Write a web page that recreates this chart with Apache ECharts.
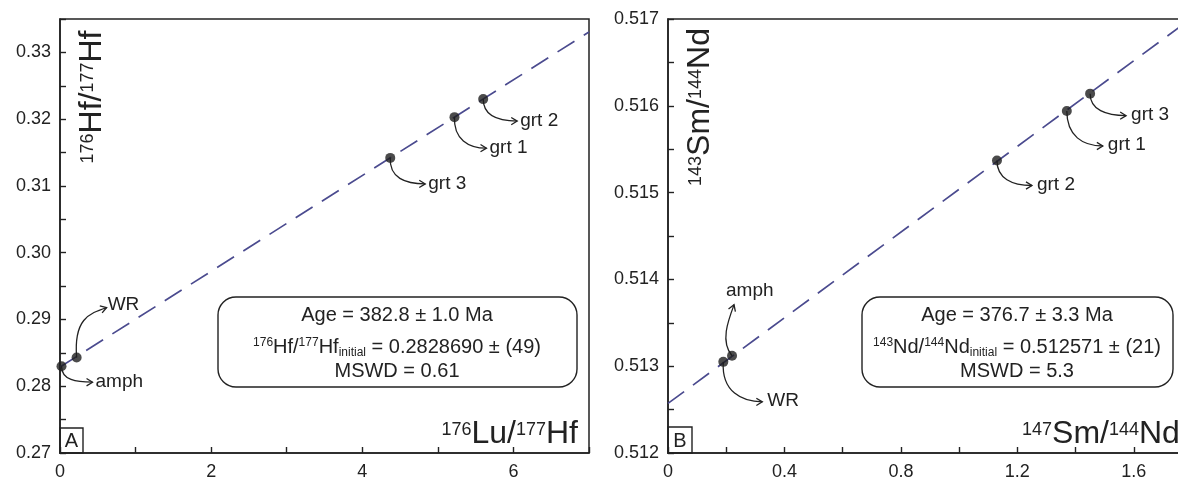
<!DOCTYPE html>
<html><head><meta charset="utf-8">
<script src="https://cdn.jsdelivr.net/npm/echarts@6/dist/echarts.min.js"></script>
<style>html,body{margin:0;padding:0;background:#fff;overflow:hidden}#c{width:1200px;height:478px}</style>
</head><body><div id="c"></div>
<script>
// ---- Panel A: Lu-Hf ----
const hfLabels = ['amph', 'WR', 'grt 3', 'grt 1', 'grt 2'];
const hfX = [0.02, 0.22, 4.37, 5.22, 5.60];
const hfY = [0.2830, 0.2843, 0.3142, 0.3203, 0.3230];
const hfLineX = [0, 7];
const hfLineY = [0.28287, 0.33306];
const hfXTickLabels = ['0', '2', '4', '6'];
const hfYTickLabels = ['0.27', '0.28', '0.29', '0.30', '0.31', '0.32', '0.33'];
// ---- Panel B: Sm-Nd ----
const smLabels = ['WR', 'amph', 'grt 2', 'grt 1', 'grt 3'];
const smX = [0.19, 0.22, 1.13, 1.37, 1.45];
const smY = [0.51305, 0.51312, 0.51537, 0.51594, 0.51614];
const smLineX = [0, 1.8];
const smLineY = [0.512571, 0.517012];
const smXTickLabels = ['0', '0.4', '0.8', '1.2', '1.6'];
const smYTickLabels = ['0.512', '0.513', '0.514', '0.515', '0.516', '0.517'];

const FONT = "'Liberation Sans', Arial, sans-serif";
const INK = '#222';
const LINE_COLOR = '#4b4b8f';

// annotation arrow shapes (pixel offsets): tip from point, c1 from point, c2 from tip, label from tip
const hfArrows = {
  'amph':  {tip: [31, 16],  c1: [0, 14],   c2: [-16, 0], lab: [3, 0]},
  'WR':    {tip: [30, -50], c1: [-3, -38], c2: [-18, 6], lab: [1, -3]},
  'grt 3': {tip: [35, 26],  c1: [-1, 20],  c2: [-20, 0], lab: [3, 0]},
  'grt 1': {tip: [32, 31],  c1: [-1, 22],  c2: [-18, 0], lab: [3, 0]},
  'grt 2': {tip: [34, 22],  c1: [0, 16],   c2: [-20, 0], lab: [3, 0]}
};
const smArrows = {
  'WR':    {tip: [39, 40],  c1: [-2, 30],   c2: [-20, 0], lab: [5, -1]},
  'amph':  {tip: [2, -51],  c1: [-12, -14], c2: [-6, 16], lab: [-8, -14]},
  'grt 2': {tip: [35, 25],  c1: [0, 18],    c2: [-20, 0], lab: [5, -1]},
  'grt 1': {tip: [36, 35],  c1: [0, 25],    c2: [-20, 0], lab: [5, -1]},
  'grt 3': {tip: [36, 22],  c1: [0, 16],    c2: [-20, 0], lab: [5, -1]}
};

function tickFormatter(labels) {
  return function (v) {
    const hit = labels.find(l => Math.abs(parseFloat(l) - v) < 1e-9);
    return hit === undefined ? '' : hit;
  };
}

function annotRender(labels, shapes) {
  return function (params, api) {
    const p = api.coord([api.value(0), api.value(1)]);
    const s = shapes[labels[params.dataIndex]];
    const tx = p[0] + s.tip[0], ty = p[1] + s.tip[1];
    const c2x = tx + s.c2[0], c2y = ty + s.c2[1];
    const a = Math.atan2(ty - c2y, tx - c2x);
    const L = 7, th = 0.55;
    return {
      type: 'group',
      children: [
        {type: 'bezierCurve',
         shape: {x1: p[0], y1: p[1], x2: tx, y2: ty,
                 cpx1: p[0] + s.c1[0], cpy1: p[1] + s.c1[1], cpx2: c2x, cpy2: c2y},
         style: {stroke: INK, lineWidth: 1.3, fill: null}},
        {type: 'polyline',
         shape: {points: [[tx - L * Math.cos(a + th), ty - L * Math.sin(a + th)], [tx, ty],
                          [tx - L * Math.cos(a - th), ty - L * Math.sin(a - th)]]},
         style: {stroke: INK, lineWidth: 1.3, fill: null}},
        {type: 'text', x: tx + s.lab[0], y: ty + s.lab[1],
         style: {text: labels[params.dataIndex], fill: INK, fontSize: 19, fontFamily: FONT,
                 align: 'left', verticalAlign: 'middle', textAlign: 'left', textVerticalAlign: 'middle'}}
      ]
    };
  };
}

function mkX(idx, min, max, interval, labels) {
  return {
    type: 'value', gridIndex: idx, min: min, max: max, interval: interval,
    axisLine: {show: true, onZero: false, lineStyle: {color: INK, width: 1.6}},
    axisTick: {show: true, inside: true, length: 6, lineStyle: {color: INK, width: 1.4}},
    axisLabel: {show: true, margin: 10, fontSize: 18, color: INK, fontFamily: FONT,
                formatter: tickFormatter(labels), showMinLabel: true, showMaxLabel: true},
    splitLine: {show: false}
  };
}
function mkY(idx, min, max, interval, labels) {
  return {
    type: 'value', gridIndex: idx, min: min, max: max, interval: interval,
    axisLine: {show: true, onZero: false, lineStyle: {color: INK, width: 1.6}},
    axisTick: {show: true, inside: true, length: 6, lineStyle: {color: INK, width: 1.4}},
    axisLabel: {show: true, margin: 9, fontSize: 18, color: INK, fontFamily: FONT,
                formatter: tickFormatter(labels), showMinLabel: true, showMaxLabel: true},
    splitLine: {show: false}
  };
}

const richTitle = {
  m: {fontSize: 32, fontFamily: FONT, color: INK, fill: INK, lineHeight: 33},
  s: {fontSize: 18, fontFamily: FONT, color: INK, fill: INK, padding: [0, 0, 8, 0]}
};
const richBox = {
  m: {fontSize: 20, fontFamily: FONT, color: INK, fill: INK, lineHeight: 22},
  s: {fontSize: 12, fontFamily: FONT, color: INK, fill: INK, padding: [0, 0, 8, 0]},
  b: {fontSize: 12, fontFamily: FONT, color: INK, fill: INK, padding: [12, 0, 0, 0]}
};
function txt(x, y, text, rich, align, rot) {
  return {type: 'text', x: x, y: y, rotation: rot || 0, z: 10,
          style: {text: text, rich: rich, fill: INK, fontSize: 20, fontFamily: FONT,
                  align: align, textAlign: align, verticalAlign: 'middle', textVerticalAlign: 'middle'}};
}

const chart = echarts.init(document.getElementById('c'), null, {renderer: 'canvas'});
chart.setOption({
  backgroundColor: '#fff',
  animation: false,
  grid: [
    {left: 60, top: 19, width: 529, height: 434, show: true, borderColor: INK, borderWidth: 1.5,
     containLabel: false, outerBoundsMode: 'none'},
    {left: 668, top: 19, width: 524, height: 434, show: true, borderColor: INK, borderWidth: 1.5,
     containLabel: false, outerBoundsMode: 'none'}
  ],
  xAxis: [mkX(0, 0, 7, 1, hfXTickLabels), mkX(1, 0, 1.8, 0.2, smXTickLabels)],
  yAxis: [mkY(0, 0.27, 0.335, 0.005, hfYTickLabels), mkY(1, 0.512, 0.517, 0.0005, smYTickLabels)],
  series: [
    {type: 'line', xAxisIndex: 0, yAxisIndex: 0, data: hfLineX.map((x, i) => [x, hfLineY[i]]),
     showSymbol: false, symbol: 'none', clip: true, z: 2,
     lineStyle: {color: LINE_COLOR, width: 1.7, type: [20, 11]}},
    {type: 'line', xAxisIndex: 1, yAxisIndex: 1, data: smLineX.map((x, i) => [x, smLineY[i]]),
     showSymbol: false, symbol: 'none', clip: true, z: 2,
     lineStyle: {color: LINE_COLOR, width: 1.7, type: [20, 11]}},
    {type: 'custom', xAxisIndex: 0, yAxisIndex: 0, z: 3,
     data: hfX.map((x, i) => [x, hfY[i]]), renderItem: annotRender(hfLabels, hfArrows)},
    {type: 'custom', xAxisIndex: 1, yAxisIndex: 1, z: 3,
     data: smX.map((x, i) => [x, smY[i]]), renderItem: annotRender(smLabels, smArrows)},
    {type: 'scatter', xAxisIndex: 0, yAxisIndex: 0, data: hfX.map((x, i) => [x, hfY[i]]),
     symbolSize: 10, itemStyle: {color: '#1e1e1e'}, z: 4, clip: false},
    {type: 'scatter', xAxisIndex: 1, yAxisIndex: 1, data: smX.map((x, i) => [x, smY[i]]),
     symbolSize: 10, itemStyle: {color: '#1e1e1e'}, z: 4, clip: false}
  ],
  graphic: [
    // info boxes
    {type: 'rect', shape: {x: 218, y: 297, width: 359, height: 90, r: 18}, z: 5,
     style: {fill: '#fff', stroke: INK, lineWidth: 1.4}},
    {type: 'rect', shape: {x: 862, y: 297, width: 311, height: 90, r: 18}, z: 5,
     style: {fill: '#fff', stroke: INK, lineWidth: 1.4}},
    txt(397, 315, '{m|Age = 382.8 ± 1.0 Ma}', richBox, 'center'),
    txt(397, 347, '{s|176}{m|Hf/}{s|177}{m|Hf}{b|initial}{m| = 0.2828690 ± (49)}', richBox, 'center'),
    txt(397, 371, '{m|MSWD = 0.61}', richBox, 'center'),
    txt(1017, 315, '{m|Age = 376.7 ± 3.3 Ma}', richBox, 'center'),
    txt(1017, 347, '{s|143}{m|Nd/}{s|144}{m|Nd}{b|initial}{m| = 0.512571 ± (21)}', richBox, 'center'),
    txt(1017, 371, '{m|MSWD = 5.3}', richBox, 'center'),
    // axis titles
    txt(578, 434, '{s|176}{m|Lu/}{s|177}{m|Hf}', richTitle, 'right'),
    txt(1022, 434, '{s|147}{m|Sm/}{s|144}{m|Nd}', richTitle, 'left'),
    txt(92, 97, '{s|176}{m|Hf/}{s|177}{m|Hf}', richTitle, 'center', Math.PI / 2),
    txt(700, 107, '{s|143}{m|Sm/}{s|144}{m|Nd}', richTitle, 'center', Math.PI / 2),
    // panel letters
    {type: 'rect', shape: {x: 60, y: 428, width: 23, height: 25}, z: 6,
     style: {fill: null, stroke: INK, lineWidth: 1.4}},
    {type: 'rect', shape: {x: 668, y: 427, width: 24, height: 26}, z: 6,
     style: {fill: null, stroke: INK, lineWidth: 1.4}},
    txt(71.5, 441, '{m|A}', richBox, 'center'),
    txt(680, 441, '{m|B}', richBox, 'center')
  ]
});
</script>
</body></html>
